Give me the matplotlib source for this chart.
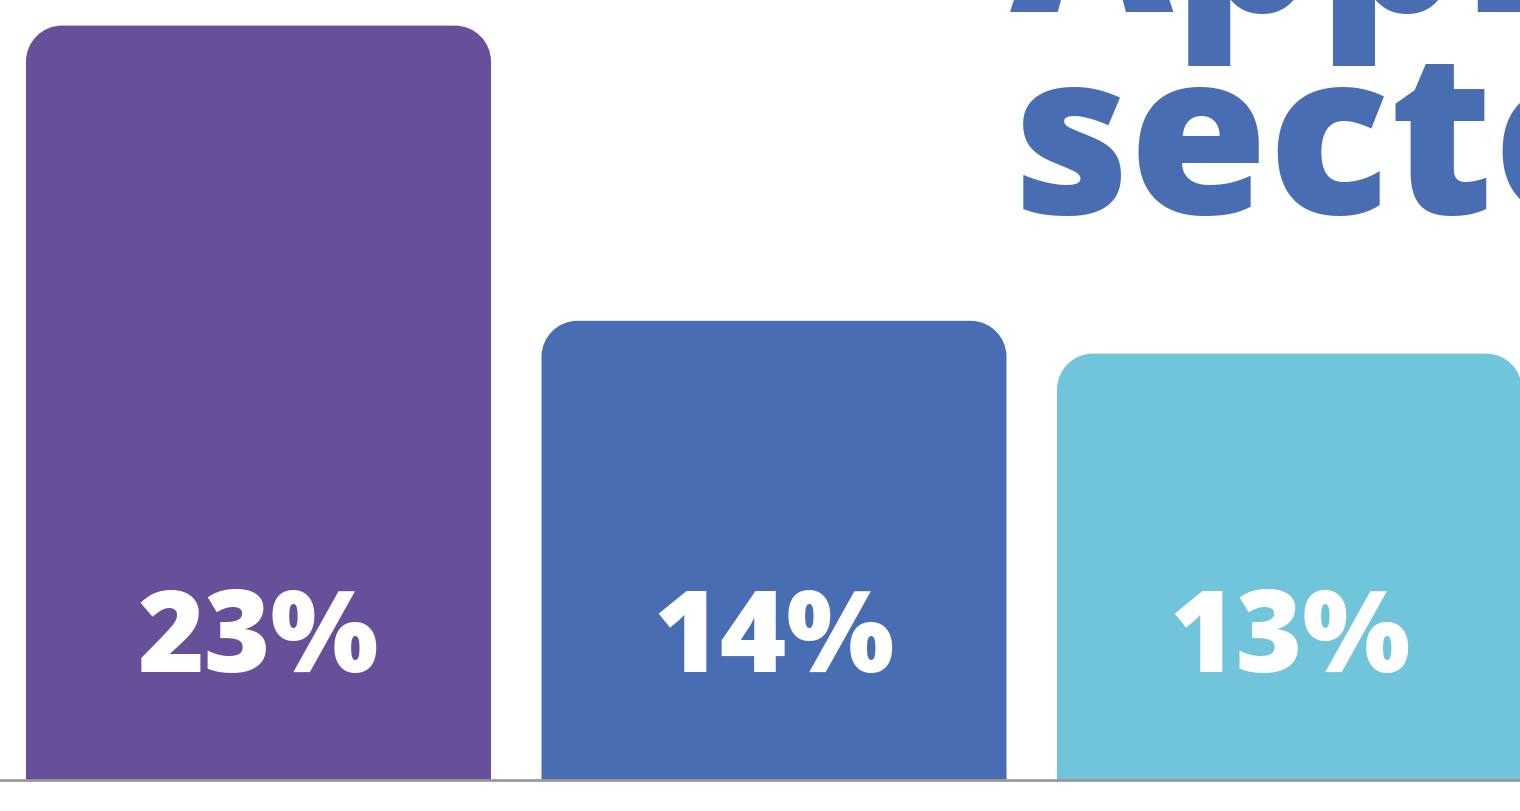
import matplotlib
matplotlib.use("Agg")
from matplotlib import pyplot as plt
from matplotlib.path import Path
from matplotlib.patches import PathPatch

shares = [23, 14, 13]
labels = ["23%", "14%", "13%"]
colors = ["#684F9A", "#486DB3", "#71C5DA"]
title_lines = ["Applications", "sector"]

FONT = ["Open Sans", "DejaVu Sans"]
K = 0.5523


def rounded_bar(ax, xc, h, w, rx, ry, color):
    x0, x1 = xc - w / 2, xc + w / 2
    verts = [
        (x0, 0), (x0, h - ry),
        (x0, h - ry + K * ry), (x0 + rx - K * rx, h), (x0 + rx, h),
        (x1 - rx, h),
        (x1 - rx + K * rx, h), (x1, h - ry + K * ry), (x1, h - ry),
        (x1, 0), (x0, 0),
    ]
    codes = [Path.MOVETO, Path.LINETO,
             Path.CURVE4, Path.CURVE4, Path.CURVE4,
             Path.LINETO,
             Path.CURVE4, Path.CURVE4, Path.CURVE4,
             Path.LINETO, Path.CLOSEPOLY]
    ax.add_patch(PathPatch(Path(verts, codes), facecolor=color,
                           edgecolor="none", zorder=2))


def main():
    fig = plt.figure(figsize=(15.2, 8.11), dpi=100)
    ax = fig.add_axes([0, 0, 1, 1])

    px_x = 515.5   # pixels per category
    px_y = 32.8    # pixels per percent
    ax.set_xlim(-258.5 / px_x, (1520 - 258.5) / px_x)
    ax.set_ylim(-31 / px_y, 780 / px_y)
    ax.axis("off")

    width = 465 / px_x
    for i, (v, c) in enumerate(zip(shares, colors)):
        rounded_bar(ax, i, v, width, 36 / px_x, 36 / px_y, c)
        ax.text(i, 108 / px_y, labels[i], ha="center", va="baseline",
                color="white", fontsize=82, fontweight=800,
                family=FONT, zorder=3)

    ax.axhline(0, color="#9A9A9A", lw=2, zorder=4)

    # two-line title, mostly cropped by the top and right edges
    fig.text(1010 / 1520, 1 - 214 / 811, "\n".join(title_lines), ha="left",
             va="baseline", color="#486DB3", fontsize=162, linespacing=0.865,
             fontweight=800, family=FONT, zorder=5)

    fig.savefig("out.png", dpi=100, facecolor="white")


if __name__ == "__main__":
    main()
